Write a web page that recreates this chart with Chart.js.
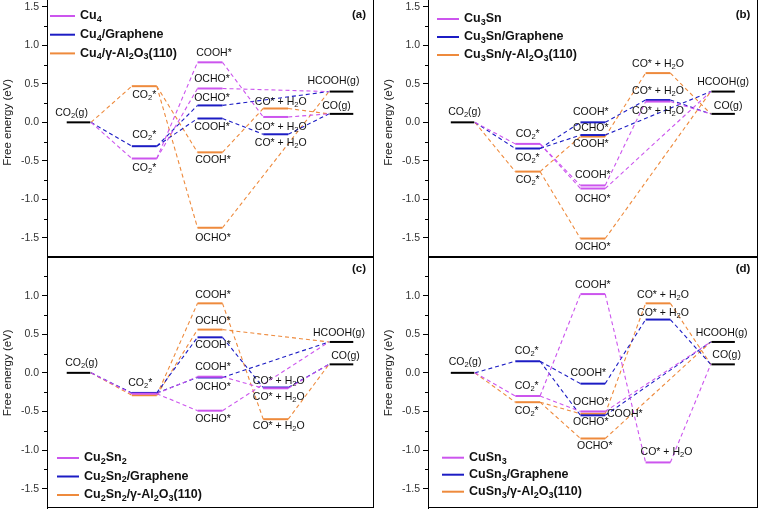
<!DOCTYPE html>
<html>
<head>
<meta charset="utf-8">
<script src="https://cdn.jsdelivr.net/npm/chart.js@4.4.0/dist/chart.umd.min.js"></script>
<style>
  body { margin: 0; background: #fff; }
  #wrap { position: relative; width: 760px; height: 512px; overflow: hidden; background: #fff; }
  #wrap canvas { position: absolute; }
</style>
</head>
<body>
<div id="wrap">
  <canvas id="pa" width="377" height="260" style="left:0px;top:0px"></canvas>
  <canvas id="pb" width="379" height="260" style="left:381px;top:0px"></canvas>
  <canvas id="pc" width="377" height="262" style="left:0px;top:250px"></canvas>
  <canvas id="pd" width="379" height="262" style="left:381px;top:250px"></canvas>
</div>
<script>
// reaction steps on the x axis: 0 CO2(g), 1 CO2*, 2 COOH*/OCHO*, 3 CO* + H2O, 4 HCOOH(g)/CO(g)
const gasCO2 = 0.0;
const gasHCOOH = 0.40;
const gasCO = 0.11;

// free energies (eV) in order: CO2*, COOH*, OCHO*, CO* + H2O
const cu4 = [-0.47, 0.78, 0.44, 0.07];
const cu4Graphene = [-0.31, 0.05, 0.22, -0.155];
const cu4Al2O3 = [0.47, -0.39, -1.37, 0.18];

const cu3sn = [-0.28, -0.82, -0.86, 0.27];
const cu3snGraphene = [-0.34, 0.0, -0.165, 0.29];
const cu3snAl2O3 = [-0.64, -0.185, -1.51, 0.64];

const cu2sn2 = [-0.27, -0.05, -0.49, -0.20];
const cu2sn2Graphene = [-0.26, 0.46, -0.06, -0.19];
const cu2sn2Al2O3 = [-0.29, 0.90, 0.56, -0.60];

const cusn3 = [-0.30, 1.02, -0.50, -1.16];
const cusn3Graphene = [0.15, -0.14, -0.55, 0.69];
const cusn3Al2O3 = [-0.38, -0.53, -0.85, 0.90];

const yTicks = [-1.5, -1.0, -0.5, 0.0, 0.5, 1.0, 1.5];

const FONT = "'Liberation Sans', Arial, Helvetica, sans-serif";
const MAGENTA = '#cc55ee';
const BLUE = '#1c1cc4';
const ORANGE = '#ee8a3c';
const HALF = 0.19;

// text drawn with "_2" meaning a subscript 2
function richWidth(ctx, text, size, bold) {
  let w = 0;
  text.split(/_(\d+)/).forEach((p, i) => {
    ctx.font = (bold ? 'bold ' : '') + (i % 2 ? size * 0.72 : size) + 'px ' + FONT;
    w += ctx.measureText(p).width;
  });
  return w;
}
function drawRich(ctx, text, x, y, size, bold, align) {
  let cx = align === 'center' ? x - richWidth(ctx, text, size, bold) / 2 : x;
  ctx.textBaseline = 'middle';
  ctx.textAlign = 'left';
  text.split(/_(\d+)/).forEach((p, i) => {
    const sub = i % 2 === 1;
    ctx.font = (bold ? 'bold ' : '') + (sub ? size * 0.72 : size) + 'px ' + FONT;
    ctx.fillText(p, cx, sub ? y + size * 0.27 : y);
    cx += ctx.measureText(p).width;
  });
}

function level(s, v, color, half) {
  return { data: [{ x: s - half, y: v }, { x: s + half, y: v }], borderColor: color, borderWidth: 2, pointRadius: 0, showLine: true };
}
function link(s1, v1, s2, v2, color) {
  return { data: [{ x: s1 + HALF, y: v1 }, { x: s2 - HALF, y: v2 }], borderColor: color, borderWidth: 1.1, borderDash: [4, 3], pointRadius: 0, showLine: true };
}

function buildDatasets(series) {
  const levels = [level(0, gasCO2, '#000', 0.18), level(4, gasHCOOH, '#000', 0.18), level(4, gasCO, '#000', 0.18)];
  const links = [];
  series.forEach(sr => {
    const [co2, cooh, ocho, co] = sr.values;
    levels.push(level(1, co2, sr.color, HALF), level(2, cooh, sr.color, HALF), level(2, ocho, sr.color, HALF), level(3, co, sr.color, HALF));
    links.push(
      link(0, gasCO2, 1, co2, sr.color),
      link(1, co2, 2, cooh, sr.color),
      link(1, co2, 2, ocho, sr.color),
      link(2, cooh, 3, co, sr.color),
      link(3, co, 4, gasCO, sr.color),
      link(2, ocho, 4, gasHCOOH, sr.color)
    );
  });
  return levels.concat(links);
}

const panels = [
  {
    id: 'pa', tag: '(a)', tagY: 15, xMin: -0.48, xMax: 4.48, yMax: 1.59, pad: { top: 0, bottom: 3, right: 4 },
    legend: { x: 3, y: 16, step: 18.7, len: 25 },
    series: [
      { name: 'Cu_4', values: cu4, color: MAGENTA },
      { name: 'Cu_4/Graphene', values: cu4Graphene, color: BLUE },
      { name: 'Cu_4/γ-Al_2O_3(110)', values: cu4Al2O3, color: ORANGE }
    ],
    labels: [
      [0, gasCO2, 'CO_2(g)', -7, -9],
      [1, cu4Al2O3[0], 'CO_2*', 0, 9],
      [1, cu4Graphene[0], 'CO_2*', 0, -11],
      [1, cu4[0], 'CO_2*', 0, 10],
      [2, cu4[1], 'COOH*', 4, -9],
      [2, cu4[2], 'OCHO*', 2, -9],
      [2, cu4Graphene[2], 'OCHO*', 2, -7],
      [2, cu4Graphene[1], 'COOH*', 2, 9],
      [2, cu4Al2O3[1], 'COOH*', 3, 8],
      [2, cu4Al2O3[2], 'OCHO*', 3, 10.5],
      [3, cu4Al2O3[3], 'CO* + H_2O', 5, -6],
      [3, cu4[3], 'CO* + H_2O', 5, 10],
      [3, cu4Graphene[3], 'CO* + H_2O', 5, 8.5],
      [4, gasHCOOH, 'HCOOH(g)', -8, -10],
      [4, gasCO, 'CO(g)', -5, -8]
    ]
  },
  {
    id: 'pb', tag: '(b)', tagY: 15, xMin: -0.53, xMax: 4.52, yMax: 1.59, pad: { top: 0, bottom: 3, right: 3 },
    legend: { x: 9, y: 19, step: 18, len: 22 },
    series: [
      { name: 'Cu_3Sn', values: cu3sn, color: MAGENTA },
      { name: 'Cu_3Sn/Graphene', values: cu3snGraphene, color: BLUE },
      { name: 'Cu_3Sn/γ-Al_2O_3(110)', values: cu3snAl2O3, color: ORANGE }
    ],
    labels: [
      [0, gasCO2, 'CO_2(g)', 2, -10.5],
      [1, cu3sn[0], 'CO_2*', 0, -10],
      [1, cu3snGraphene[0], 'CO_2*', 0, 10],
      [1, cu3snAl2O3[0], 'CO_2*', 0, 8.5],
      [2, cu3snGraphene[1], 'COOH*', -2, -10],
      [2, cu3snGraphene[2], 'OCHO*', -2, -7],
      [2, cu3snAl2O3[1], 'COOH*', -2, 8],
      [2, cu3sn[1], 'COOH*', 0, -10],
      [2, cu3sn[2], 'OCHO*', 0, 10.5],
      [2, cu3snAl2O3[2], 'OCHO*', 0, 9],
      [3, cu3snAl2O3[3], 'CO* + H_2O', 0, -8.7],
      [3, cu3snGraphene[3], 'CO* + H_2O', 0, -9.3],
      [3, cu3sn[3], 'CO* + H_2O', 0, 10],
      [4, gasHCOOH, 'HCOOH(g)', 0, -9.7],
      [4, gasCO, 'CO(g)', 5, -8]
    ]
  },
  {
    id: 'pc', tag: '(c)', tagY: 12, xMin: -0.48, xMax: 4.48, yMax: 1.5, pad: { top: 7, bottom: 4, right: 4 },
    legend: { x: 10, y: 201, step: 18.5, len: 22 },
    series: [
      { name: 'Cu_2Sn_2', values: cu2sn2, color: MAGENTA },
      { name: 'Cu_2Sn_2/Graphene', values: cu2sn2Graphene, color: BLUE },
      { name: 'Cu_2Sn_2/γ-Al_2O_3(110)', values: cu2sn2Al2O3, color: ORANGE }
    ],
    labels: [
      [0, gasCO2, 'CO_2(g)', 3, -10],
      [1, cu2sn2[0], 'CO_2*', -4, -11],
      [2, cu2sn2Al2O3[1], 'COOH*', 3, -8],
      [2, cu2sn2Al2O3[2], 'OCHO*', 3, -8.3],
      [2, cu2sn2Graphene[1], 'COOH*', 3, 8],
      [2, cu2sn2[1], 'COOH*', 3, -10],
      [2, cu2sn2Graphene[2], 'OCHO*', 3, 10],
      [2, cu2sn2[2], 'OCHO*', 3, 8],
      [3, cu2sn2Graphene[3], 'CO* + H_2O', 3, -6.5],
      [3, cu2sn2[3], 'CO* + H_2O', 3, 9],
      [3, cu2sn2Al2O3[3], 'CO* + H_2O', 3, 7],
      [4, gasHCOOH, 'HCOOH(g)', -2.5, -9.3],
      [4, gasCO, 'CO(g)', 4, -8.3]
    ]
  },
  {
    id: 'pd', tag: '(d)', tagY: 12, xMin: -0.53, xMax: 4.52, yMax: 1.5, pad: { top: 7, bottom: 4, right: 3 },
    legend: { x: 14, y: 200.7, step: 17, len: 22 },
    series: [
      { name: 'CuSn_3', values: cusn3, color: MAGENTA },
      { name: 'CuSn_3/Graphene', values: cusn3Graphene, color: BLUE },
      { name: 'CuSn_3/γ-Al_2O_3(110)', values: cusn3Al2O3, color: ORANGE }
    ],
    labels: [
      [0, gasCO2, 'CO_2(g)', 2.5, -10.7],
      [1, cusn3Graphene[0], 'CO_2*', -1, -10],
      [1, cusn3[0], 'CO_2*', -1, -10],
      [1, cusn3Al2O3[0], 'CO_2*', -1, 9],
      [2, cusn3[1], 'COOH*', 0, -9],
      [2, cusn3Graphene[1], 'COOH*', -4.5, -10.7],
      [2, cusn3[2], 'OCHO*', -2, -9.3],
      [2, cusn3Al2O3[1], 'COOH*', 32, 0],
      [2, cusn3Graphene[2], 'OCHO*', -2, 7],
      [2, cusn3Al2O3[2], 'OCHO*', 2, 8],
      [3, cusn3Al2O3[3], 'CO* + H_2O', 5, -8.3],
      [3, cusn3Graphene[3], 'CO* + H_2O', 5, -6.7],
      [3, cusn3[3], 'CO* + H_2O', 8.5, -10],
      [4, gasHCOOH, 'HCOOH(g)', -1.5, -8.7],
      [4, gasCO, 'CO(g)', 3.5, -9]
    ]
  }
];

function makeDecor(p) {
  return {
    id: 'decor' + p.id,
    afterDraw(chart) {
      const ctx = chart.ctx;
      const a = chart.chartArea;
      const xs = chart.scales.x, ys = chart.scales.y;
      ctx.save();
      // frame: right, bottom, and top on the lower panels
      ctx.strokeStyle = '#000';
      ctx.lineWidth = 1;
      ctx.beginPath();
      ctx.moveTo(Math.round(a.right) + 0.5, a.top);
      ctx.lineTo(Math.round(a.right) + 0.5, a.bottom);
      ctx.moveTo(a.left, Math.round(a.bottom) - 0.5);
      ctx.lineTo(a.right + 1, Math.round(a.bottom) - 0.5);
      if (p.yMax <= 1.5) {
        ctx.moveTo(a.left, Math.round(a.top) + 0.5);
        ctx.lineTo(a.right + 1, Math.round(a.top) + 0.5);
      }
      // minor ticks
      for (let v = -1.25; v < p.yMax; v += 0.5) {
        const y = Math.round(ys.getPixelForValue(v)) + 0.5;
        ctx.moveTo(a.left - 3, y);
        ctx.lineTo(a.left, y);
      }
      ctx.stroke();

      // axis title, centred on zero
      ctx.fillStyle = '#222';
      ctx.save();
      ctx.translate(8, ys.getPixelForValue(0));
      ctx.rotate(-Math.PI / 2);
      ctx.font = '11.5px ' + FONT;
      ctx.textAlign = 'center';
      ctx.textBaseline = 'middle';
      ctx.fillText('Free energy (eV)', 0, 0);
      ctx.restore();

      // state labels
      ctx.fillStyle = '#111';
      p.labels.forEach(([s, v, t, dx, dy]) => {
        drawRich(ctx, t, xs.getPixelForValue(s) + dx, ys.getPixelForValue(v) + dy, 10.5, false, 'center');
      });

      // legend
      p.series.forEach((sr, i) => {
        const y = a.top + p.legend.y + i * p.legend.step;
        const x0 = a.left + p.legend.x;
        ctx.strokeStyle = sr.color;
        ctx.lineWidth = 2;
        ctx.beginPath();
        ctx.moveTo(x0, y);
        ctx.lineTo(x0 + p.legend.len, y);
        ctx.stroke();
        ctx.fillStyle = '#111';
        drawRich(ctx, sr.name, x0 + p.legend.len + 5, y, 12.5, true, 'left');
      });

      // panel tag
      ctx.fillStyle = '#111';
      drawRich(ctx, p.tag, a.right - 14, a.top + p.tagY, 11.5, true, 'center');
      ctx.restore();
    }
  };
}

panels.forEach(p => {
  const canvas = document.getElementById(p.id);
  new Chart(canvas.getContext('2d'), {
    type: 'scatter',
    data: { datasets: buildDatasets(p.series) },
    options: {
      responsive: false,
      animation: false,
      layout: { padding: { left: 0, right: p.pad.right, top: p.pad.top, bottom: p.pad.bottom } },
      plugins: { legend: { display: false }, tooltip: { enabled: false } },
      elements: { line: { tension: 0 } },
      scales: {
        x: { type: 'linear', display: false, min: p.xMin, max: p.xMax },
        y: {
          min: -1.75,
          max: p.yMax,
          afterBuildTicks: s => { s.ticks = yTicks.filter(v => v <= p.yMax - 0.05).map(v => ({ value: v })); },
          afterFit: s => { s.width = 47; s.paddingTop = 0; s.paddingBottom = 0; },
          ticks: { callback: v => Number(v).toFixed(1), font: { family: FONT, size: 10.5 }, color: '#333', padding: 3 },
          grid: { drawOnChartArea: false, drawTicks: true, tickLength: 5, color: '#000' },
          border: { display: true, color: '#000', width: 1 }
        }
      }
    },
    plugins: [makeDecor(p)]
  });
});
</script>
</body>
</html>
